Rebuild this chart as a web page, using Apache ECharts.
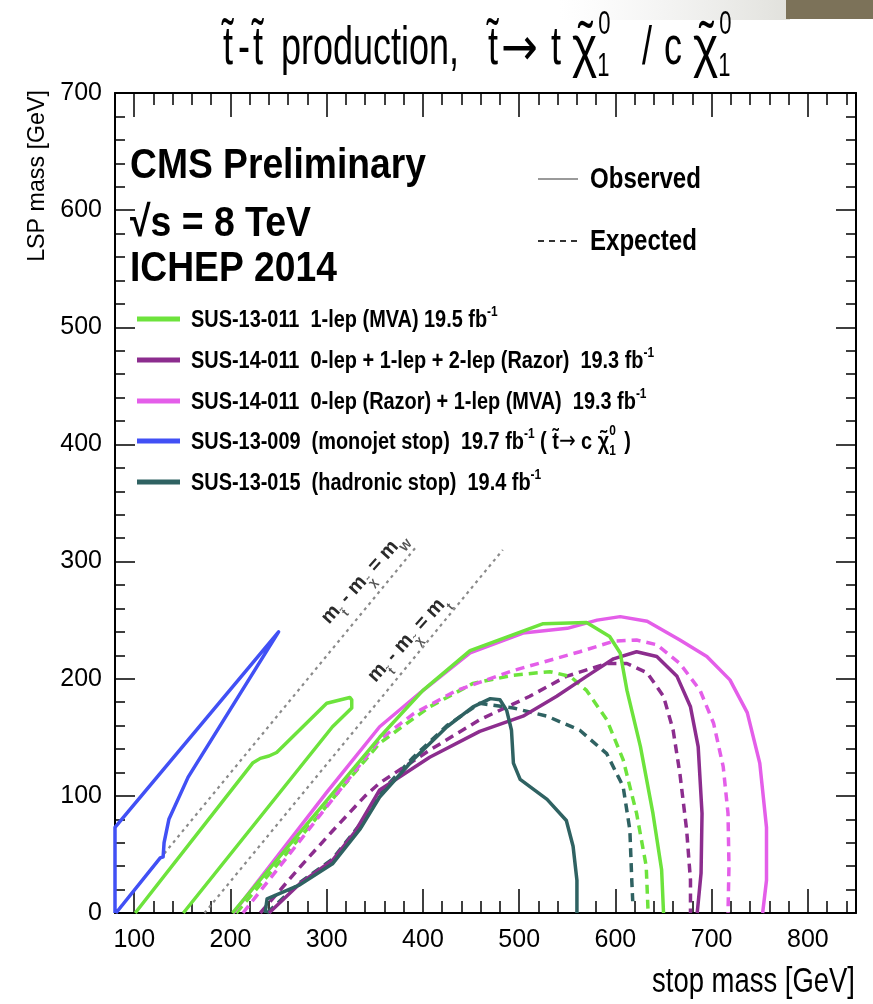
<!DOCTYPE html>
<html><head><meta charset="utf-8">
<script src="https://cdn.jsdelivr.net/npm/echarts@6/dist/echarts.min.js"></script>
<style>html,body{margin:0;padding:0;background:#fff}#c{width:873px;height:1004px}</style>
</head><body><div id="c"></div>
<script>
// ---------- DATA ----------
const xTickLabels = [100,200,300,400,500,600,700,800];
const yTickLabels = [0,100,200,300,400,500,600,700];
const xMinorTicks = [100,120,140,160,180,200,220,240,260,280,300,320,340,360,380,400,420,440,460,480,500,520,540,560,580,600,620,640,660,680,700,720,740,760,780,800,820,840];
const yMinorTicks = [20,40,60,80,100,120,140,160,180,200,220,240,260,280,300,320,340,360,380,400,420,440,460,480,500,520,540,560,580,600,620,640,660,680];

// diagonal kinematic lines
const lineMW = [[80.4,0],[392,311.6]];
const lineMt = [[173,0],[483,310]];

// SUS-13-009 monojet (blue, observed)
const blueObs = [[80,0],[80,73],[250,240],[156,116],[136,80],[131,60],[130,48],[127,47],[81,0]];
// SUS-13-011 1-lep MVA (green)
const greenObsBand = [[101,0],[223,128],[231,132],[240,134],[248,137],[300,179],[324,184],[326,182],[326,175],[306,159],[151,0]];
const greenObs = [[202,0],[355,150],[400,190],[449,224],[525,247],[570,248],[594,236],[605,222],[612,190],[626,142],[639,85],[648,37],[650,0]];
const greenExp = [[206,0],[355,145],[407,176],[452,196],[494,203],[532,206],[553,202],[570,190],[591,165],[608,131],[622,85],[632,40],[634,0]];
// SUS-14-011 Razor 0+1+2 lep (purple)
const purpleObs = [[240,0],[272,25],[306,45],[330,70],[355,105],[407,133],[459,155],[504,168],[539,185],[570,202],[598,217],[622,223],[643,219],[664,202],[678,176],[686,142],[690,85],[689,34],[685,0]];
const purpleExp = [[231,0],[272,39],[306,70],[340,100],[355,111],[407,139],[459,165],[511,185],[549,202],[591,213],[612,213],[633,205],[650,185],[660,156],[667,119],[674,71],[678,28],[678,0]];
// SUS-14-011 Razor + MVA (magenta)
const magentaObs = [[203,0],[300,103],[355,159],[397,188],[449,222],[504,239],[550,243],[581,250],[605,253],[633,249],[667,233],[695,219],[719,199],[737,171],[750,128],[757,73],[757,28],[753,0]];
const magentaExp = [[213,0],[355,148],[390,170],[435,190],[494,207],[563,223],[598,232],[622,233],[643,229],[667,213],[688,190],[702,162],[712,125],[717,85],[718,40],[717,0]];
// SUS-13-015 hadronic stop (teal)
const tealObs = [[236,0],[238,12],[272,24],[306,42],[335,72],[355,99],[390,131],[425,159],[452,176],[470,183],[480,182],[487,173],[492,156],[494,128],[501,114],[529,97],[549,79],[556,57],[560,28],[560,0]];
const tealExp = [[238,0],[272,26],[306,46],[335,76],[355,102],[390,133],[425,160],[459,179],[494,175],[529,168],[563,156],[591,136],[608,108],[615,71],[617,28],[618,10]];

// ---------- STYLE ----------
const C_GREEN = '#6de33c', C_PURPLE = '#8c2d8e', C_MAGENTA = '#e45ee9', C_BLUE = '#4150f5', C_TEAL = '#2f6262';
const FONT = '"Liberation Sans", Arial, Helvetica, sans-serif';
const DJV = '"DejaVu Sans", sans-serif';
const X_MIN = 80, X_MAX = 850, Y_MIN = 0, Y_MAX = 700;

const mctx = document.createElement('canvas').getContext('2d');
function tw(t, size, weight, fam) { mctx.font = (weight || 'normal') + ' ' + size + 'px ' + (fam || FONT); return mctx.measureText(t).width; }
function fit(t, weight, target) { return 100 * target / tw(t, 100, weight); }
function txt(x, y, t, size, weight, sy, align, fam) {
  return { type: 'text', x: x, y: y, scaleY: sy || 1, silent: true,
    style: { text: t, fill: '#000', fontSize: size, fontWeight: weight || 'normal', fontFamily: fam || FONT, align: align || 'left', verticalAlign: 'middle' } };
}
// segs: {t,size,weight,dy,fam,acc} or {sup,sub,size,weight,supDy,subDy}
function mathRow(x, y, segs, sy) {
  const els = []; let cx = x;
  segs.forEach(function (s) {
    if (s.t === undefined) {
      let w = 0;
      if (s.sup) { els.push(txt(cx, y + s.supDy, s.sup, s.size, s.weight, sy)); w = Math.max(w, tw(s.sup, s.size, s.weight)); }
      if (s.sub) { els.push(txt(cx, y + s.subDy, s.sub, s.size, s.weight, sy)); w = Math.max(w, tw(s.sub, s.size, s.weight)); }
      cx += w + (s.gap || 0);
    } else {
      const w = tw(s.t, s.size, s.weight, s.fam);
      els.push(txt(cx, y + (s.dy || 0), s.t, s.size, s.weight, sy, 'left', s.fam));
      if (s.acc) els.push(txt(cx + w / 2, y + (s.accDy || 0), '\u02dc', s.size, s.weight, sy, 'center'));
      cx += w;
    }
  });
  return { els: els, width: cx - x };
}

// ---------- AXES ----------
function xAx(pos, ticks, len, labels, line) {
  return { type: 'value', position: pos, min: X_MIN, max: X_MAX,
    axisLine: { show: line, onZero: false, lineStyle: { color: '#000', width: 2 } },
    axisTick: { show: true, inside: true, length: len, customValues: ticks, lineStyle: { color: '#000', width: 1.5 } },
    axisLabel: labels ? { show: true, customValues: xTickLabels, margin: 15, fontSize: 25, fontFamily: FONT, color: '#000' } : { show: false },
    splitLine: { show: false } };
}
function yAx(pos, ticks, len, labels, line) {
  return { type: 'value', position: pos, min: Y_MIN, max: Y_MAX,
    axisLine: { show: line, onZero: false, lineStyle: { color: '#000', width: 2 } },
    axisTick: { show: true, inside: true, length: len, customValues: ticks, lineStyle: { color: '#000', width: 1.5 } },
    axisLabel: labels ? { show: true, customValues: yTickLabels, margin: 13, fontSize: 25, fontFamily: FONT, color: '#000' } : { show: false },
    splitLine: { show: false } };
}

function ser(data, color, dashed, width, z) {
  return { type: 'line', data: data, showSymbol: false, symbol: 'none', silent: true, z: z || 3, clip: true,
    lineStyle: { color: color, width: width || 3.5, type: dashed ? [9, 6] : 'solid', cap: 'butt', join: 'round' } };
}

// ---------- GRAPHICS (titles, legend) ----------
const graphics = [];
// top-right artifact
graphics.push({ type: 'rect', shape: { x: 560, y: 0, width: 230, height: 20 }, silent: true,
  style: { fill: { type: 'linear', x: 0, y: 0, x2: 1, y2: 0, colorStops: [{ offset: 0, color: 'rgba(235,235,235,0)' }, { offset: 1, color: 'rgba(225,225,220,1)' }] } } });
graphics.push({ type: 'rect', shape: { x: 786, y: 0, width: 87, height: 19 }, silent: true, style: { fill: '#7c7259' } });

// title (pieces placed like the reference)
const TY = 49, TS = 36, TSY = 1.5;
function chi(x) {
  const w = tw('\u03c7', 48);
  graphics.push(txt(x, TY + 1, '\u03c7', 48, 'normal', 1.2));
  graphics.push(txt(x + w / 2 + 1, TY - 3, '\u02dc', 44, 'normal', 1.3, 'center'));
  graphics.push(txt(x + w + 1, TY - 24, '0', 22, 'normal', TSY));
  graphics.push(txt(x + w, TY + 18, '1', 22, 'normal', TSY));
}
graphics.push(txt(223, TY, 't\u0303', TS, 'normal', TSY));
graphics.push(txt(238, TY, '-', TS, 'normal', TSY));
graphics.push(txt(253, TY, 't\u0303', TS, 'normal', TSY));
graphics.push(txt(281, TY, 'production,', TS, 'normal', TSY));
graphics.push(txt(488, TY, 't\u0303', TS, 'normal', TSY));
graphics.push(txt(501, TY + 2, '\u2192', 44, 'normal', 1.2, 'left', DJV));
graphics.push(txt(551, TY, 't', TS, 'normal', TSY));
chi(572);
graphics.push(txt(642, TY, '/', TS, 'normal', TSY));
graphics.push(txt(664, TY, 'c', TS, 'normal', TSY));
chi(693);

// CMS labels
graphics.push(txt(130, 166, 'CMS Preliminary', fit('CMS Preliminary', 'bold', 296), 'bold', 1.15));
graphics.push(txt(130, 224, '\u221As = 8 TeV', fit('\u221As = 8 TeV', 'bold', 181), 'bold', 1.15));
graphics.push(txt(130, 269, 'ICHEP 2014', fit('ICHEP 2014', 'bold', 207), 'bold', 1.15));

// Observed / Expected
graphics.push({ type: 'line', silent: true, shape: { x1: 538, y1: 179, x2: 578, y2: 179 }, style: { stroke: '#9a9a9a', lineWidth: 2 } });
graphics.push({ type: 'line', silent: true, shape: { x1: 538, y1: 241, x2: 578, y2: 241 }, style: { stroke: '#333', lineWidth: 2, lineDash: [6, 5] } });
const obsSize = fit('Observed', 'bold', 111);
graphics.push(txt(590, 180, 'Observed', obsSize, 'bold', 1.2));
graphics.push(txt(590, 242, 'Expected', obsSize, 'bold', 1.2));

// legend entries
const LS = fit('SUS-14-011  0-lep + 1-lep + 2-lep (Razor)  19.3 fb', 'bold', 453);
const SUPS = LS * 0.6;
function supM(dy) { return { sup: '-1', size: SUPS, weight: 'bold', supDy: dy }; }
const legendRows = [
  { y: 319, color: C_GREEN, segs: [{ t: 'SUS-13-011  1-lep (MVA) 19.5 fb', size: LS, weight: 'bold' }, supM(-8)] },
  { y: 360, color: C_PURPLE, segs: [{ t: 'SUS-14-011  0-lep + 1-lep + 2-lep (Razor)  19.3 fb', size: LS, weight: 'bold' }, supM(-8)] },
  { y: 401, color: C_MAGENTA, segs: [{ t: 'SUS-14-011  0-lep (Razor) + 1-lep (MVA)  19.3 fb', size: LS, weight: 'bold' }, supM(-8)] },
  { y: 441, color: C_BLUE, segs: [{ t: 'SUS-13-009  (monojet stop)  19.7 fb', size: LS, weight: 'bold' }, supM(-8),
      { t: ' ( t\u0303', size: LS, weight: 'bold' }, { t: '\u2192', size: LS, fam: DJV }, { t: ' c ', size: LS, weight: 'bold' },
      { t: '\u03c7', size: LS, weight: 'bold', acc: true, accDy: -2 }, { sup: '0', sub: '1', size: SUPS, weight: 'bold', supDy: -11, subDy: 9, gap: 3 }, { t: ' )', size: LS, weight: 'bold' }] },
  { y: 482, color: C_TEAL, segs: [{ t: 'SUS-13-015  (hadronic stop)  19.4 fb', size: LS, weight: 'bold' }, supM(-8)] }
];
legendRows.forEach(function (r) {
  graphics.push({ type: 'line', silent: true, shape: { x1: 137, y1: r.y, x2: 180, y2: r.y }, style: { stroke: r.color, lineWidth: 5 } });
  mathRow(191, r.y + 1, r.segs, 1.2).els.forEach(function (e) { graphics.push(e); });
});

// axis titles
graphics.push(txt(855, 983, 'stop mass [GeV]', fit('stop mass [GeV]', 'normal', 203), 'normal', 1.25, 'right'));
graphics.push({ type: 'text', x: 38, y: 90, rotation: Math.PI / 2, silent: true,
  style: { text: 'LSP mass [GeV]', fill: '#000', fontSize: fit('LSP mass [GeV]', 'normal', 172), fontFamily: FONT, align: 'right', verticalAlign: 'middle' } });

// diagonal labels
const rot = 48 * Math.PI / 180;
function diagLabel(cx, cy, last) {
  return { type: 'text', x: cx, y: cy, rotation: rot, silent: true,
    style: { text: '{m|m}{s|t\u0303}{m| - m}{s|\u03c7\u0303}{m| = m}{s|' + last + '}', align: 'center', verticalAlign: 'middle', fill: '#222',
      rich: { m: { fontSize: 20, fontFamily: FONT, fontWeight: 'bold', fill: '#2a2a2a', lineHeight: 26, verticalAlign: 'top' },
              s: { fontSize: 12, fontFamily: FONT, fontWeight: 'bold', fill: '#555', lineHeight: 26, verticalAlign: 'bottom' } } } };
}
graphics.push(diagLabel(366, 580, 'W'));
graphics.push(diagLabel(410, 641, 't'));

// ---------- CHART ----------
const chart = echarts.init(document.getElementById('c'));
chart.setOption({
  animation: false,
  backgroundColor: '#fff',
  grid: { left: 115, top: 93, right: 17, bottom: 91, containLabel: false },
  xAxis: [xAx('bottom', xMinorTicks, 12, true, true), xAx('bottom', xTickLabels, 24, false, false),
          xAx('top', xMinorTicks, 12, false, true), xAx('top', xTickLabels, 24, false, false)],
  yAxis: [yAx('left', yMinorTicks, 10, true, true), yAx('left', yTickLabels, 20, false, false),
          yAx('right', yMinorTicks, 10, false, true), yAx('right', yTickLabels, 20, false, false)],
  series: [
    { type: 'line', data: lineMW, showSymbol: false, symbol: 'none', silent: true, z: 2, lineStyle: { color: '#8a8a8a', width: 2.2, type: [3, 4] } },
    { type: 'line', data: lineMt, showSymbol: false, symbol: 'none', silent: true, z: 2, lineStyle: { color: '#8a8a8a', width: 2.2, type: [3, 4] } },
    ser(tealExp, C_TEAL, true),
    ser(purpleExp, C_PURPLE, true),
    ser(greenExp, C_GREEN, true),
    ser(magentaExp, C_MAGENTA, true),
    ser(purpleObs, C_PURPLE, false),
    ser(magentaObs, C_MAGENTA, false),
    ser(greenObs, C_GREEN, false),
    ser(greenObsBand, C_GREEN, false),
    ser(tealObs, C_TEAL, false),
    ser(blueObs, C_BLUE, false)
  ],
  graphic: graphics
});
</script>
</body></html>
